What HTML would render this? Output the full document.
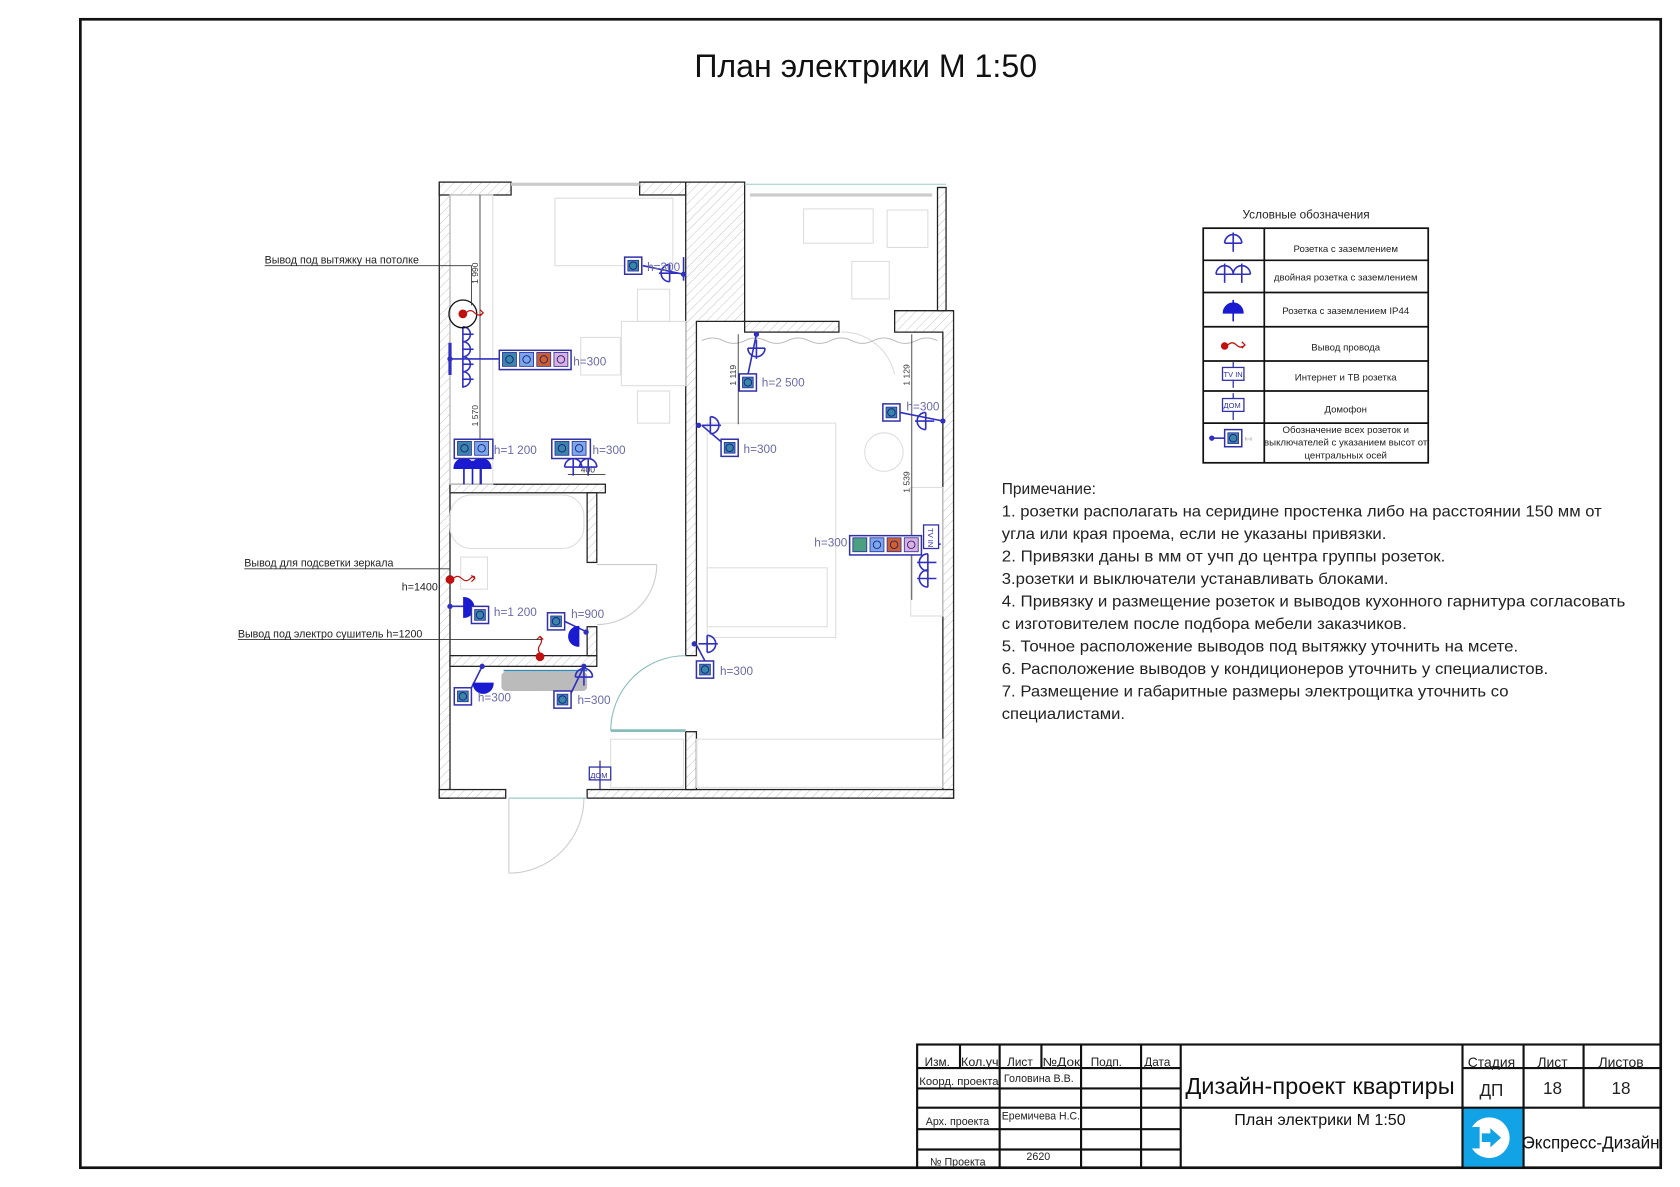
<!DOCTYPE html>
<html><head><meta charset="utf-8"><style>
html,body{margin:0;padding:0;background:#fff;}
svg{display:block;}
text{font-family:"Liberation Sans","DejaVu Sans",sans-serif;}
</style></head><body>
<svg width="1680" height="1187" viewBox="0 0 1568 1108" preserveAspectRatio="none" xmlns="http://www.w3.org/2000/svg">
<defs>
<pattern id="h" width="6" height="6" patternUnits="userSpaceOnUse" patternTransform="rotate(45)">
<rect width="6" height="6" fill="#fff"/><line x1="0" y1="0" x2="0" y2="6" stroke="#bbb" stroke-width="0.8"/>
</pattern>
<g id="s1"><rect x="0" y="0" width="16" height="16" fill="#fff" stroke="#3030a8" stroke-width="1.4"/><rect x="3" y="3" width="10" height="10" fill="#3a86a8" stroke="#3030a8" stroke-width="0.8"/><circle cx="8" cy="8" r="3.5" fill="none" stroke="#1a1a80" stroke-width="0.8"/></g>
<g id="c1"><rect x="0" y="0" width="13" height="13" fill="#3a86a8" stroke="#3030a8" stroke-width="0.8"/><circle cx="6.5" cy="6.5" r="3.5" fill="none" stroke="#1a1a80" stroke-width="0.8"/></g>
<g id="c2"><rect x="0" y="0" width="13" height="13" fill="#7aa8e8" stroke="#3030a8" stroke-width="0.8"/><circle cx="6.5" cy="6.5" r="3.5" fill="none" stroke="#1a1a80" stroke-width="0.8"/></g>
<g id="c3"><rect x="0" y="0" width="13" height="13" fill="#d0602a" stroke="#3030a8" stroke-width="0.8"/><circle cx="6.5" cy="6.5" r="3.5" fill="none" stroke="#1a1a80" stroke-width="0.8"/></g>
<g id="c4"><rect x="0" y="0" width="13" height="13" fill="#dcb0dc" stroke="#3030a8" stroke-width="0.8"/><circle cx="6.5" cy="6.5" r="3.5" fill="none" stroke="#1a1a80" stroke-width="0.8"/></g>
<g id="sock"><line x1="0" y1="-8" x2="0" y2="10" stroke="#3030c0" stroke-width="1.5"/><line x1="-8" y1="0" x2="8" y2="0" stroke="#3030c0" stroke-width="1.5"/><path d="M-8 0 A8 8 0 0 0 8 0" fill="none" stroke="#3030c0" stroke-width="1.5"/></g>
</defs>

<!-- frame -->
<rect x="75" y="18" width="1475" height="1072" fill="none" stroke="#111" stroke-width="2.5"/>
<text x="808" y="72" font-size="30" text-anchor="middle" fill="#111">План электрики М 1:50</text>

<!-- ===== PLAN ===== -->
<g>
<!-- hatched walls -->
<g fill="url(#h)" stroke="#222" stroke-width="1.2">
<rect x="410" y="170" width="10" height="575"/>
<rect x="410" y="170" width="67" height="12"/>
<rect x="597" y="170" width="43" height="12"/>
<path d="M640 170 H695 V300 H650 V612 H640 Z"/>
<rect x="695" y="300" width="88" height="10"/>
<path d="M835 290 H890 V745 H880 V310 H835 Z"/>
<rect x="875" y="175" width="8" height="115"/>
<rect x="410" y="737" width="62" height="8"/>
<rect x="548" y="737" width="342" height="8"/>
<rect x="420" y="452" width="145" height="8"/>
<rect x="548" y="460" width="9" height="65"/>
<rect x="420" y="612" width="137" height="10"/>
<rect x="548" y="585" width="9" height="27"/>
<rect x="640" y="683" width="10" height="54"/>
</g>
<line x1="695" y1="172" x2="883" y2="172" stroke="#9cc" stroke-width="1"/>
<line x1="477" y1="172" x2="597" y2="172" stroke="#ccc" stroke-width="3"/>
<line x1="700" y1="182" x2="870" y2="182" stroke="#ccc" stroke-width="3"/>
<!-- furniture light -->
<g fill="none" stroke="#ddd" stroke-width="1">
<rect x="420" y="182" width="40" height="270"/>
<rect x="518" y="185" width="110" height="63"/>
<rect x="580" y="300" width="60" height="60"/>
<rect x="595" y="270" width="30" height="30"/>
<rect x="595" y="365" width="30" height="30"/>
<rect x="542" y="315" width="37" height="35"/>
<rect x="750" y="195" width="65" height="32"/>
<rect x="828" y="196" width="38" height="35"/>
<rect x="795" y="244" width="35" height="35"/>
<rect x="660" y="395" width="120" height="200"/>
<rect x="660" y="530" width="112" height="55"/>
<circle cx="825" cy="422" r="18"/>
<rect x="420" y="462" width="125" height="50" rx="20"/>
<rect x="430" y="520" width="25" height="30"/>
<rect x="570" y="690" width="68" height="45"/>
<rect x="850" y="455" width="30" height="120"/>
<rect x="650" y="690" width="230" height="45"/>
</g>
<rect x="468" y="627" width="80" height="18" rx="4" fill="#bbb"/>
<line x1="470" y1="626" x2="548" y2="626" stroke="#3a86a8" stroke-width="1.5"/>
<!-- doors -->
<g fill="none" stroke="#8bb" stroke-width="1">
<path d="M570 682 A70 70 0 0 1 640 612"/>
<line x1="570" y1="682" x2="640" y2="682" stroke-width="2.5"/>
<path d="M557 583 A56 56 0 0 0 613 527" stroke="#ccc"/>
<line x1="557" y1="527" x2="613" y2="527" stroke="#ccc"/>
<line x1="475" y1="745" x2="475" y2="815" stroke="#ccc"/>
<path d="M475 815 A70 70 0 0 0 545 745" stroke="#ccc"/>
<line x1="475" y1="745" x2="548" y2="745"/>
<path d="M785 310 A50 50 0 0 1 835 350" stroke="#ddd"/>
</g>
<!-- curtains -->
<path d="M655 318 q10 -5 20 0 t20 0 t20 0 t20 0 t20 0 t20 0 t20 0 t20 0 t20 0 t20 0 t20 0" fill="none" stroke="#bbb" stroke-width="1"/>
<!-- dim lines -->
<g stroke="#333" stroke-width="0.8" fill="none">
<line x1="448" y1="182" x2="448" y2="452"/>
<line x1="689" y1="312" x2="689" y2="396"/>
<line x1="851" y1="312" x2="851" y2="560"/>
<line x1="530" y1="443" x2="565" y2="443"/>
</g>
<g font-size="8" fill="#333">
<text transform="translate(446,265) rotate(-90)">1 990</text>
<text transform="translate(446,398) rotate(-90)">1 570</text>
<text transform="translate(687,360) rotate(-90)">1 119</text>
<text transform="translate(849,360) rotate(-90)">1 129</text>
<text transform="translate(849,460) rotate(-90)">1 539</text>
<text x="542" y="441">400</text>
</g>

<!-- devices -->
<g stroke="#3030c0" stroke-width="1.5" fill="none">
<line x1="420" y1="335" x2="466" y2="335"/>
<line x1="420" y1="320" x2="420" y2="350" stroke-width="3"/>
<path d="M432 305 A7 7 0 0 1 432 319 M432 319 A7 7 0 0 1 432 333 M432 333 A7 7 0 0 1 432 347 M432 347 A7 7 0 0 1 432 361"/>
<line x1="432" y1="305" x2="432" y2="362"/>
<line x1="432" y1="312" x2="442" y2="312"/><line x1="432" y1="326" x2="442" y2="326"/><line x1="432" y1="340" x2="442" y2="340"/><line x1="432" y1="354" x2="442" y2="354"/>
<line x1="600" y1="248" x2="638" y2="256"/><line x1="638" y1="240" x2="638" y2="262"/>
<line x1="698" y1="350" x2="706" y2="312"/>
<line x1="655" y1="397" x2="675" y2="414"/>
<line x1="840" y1="385" x2="880" y2="393"/>
<line x1="650" y1="602" x2="658" y2="617"/>
<line x1="436" y1="566" x2="420" y2="566"/>
<line x1="527" y1="580" x2="548" y2="590"/>
<line x1="440" y1="642" x2="450" y2="622"/>
<line x1="533" y1="647" x2="545" y2="622"/>
<line x1="862" y1="508" x2="878" y2="508"/>
</g>
<g fill="#3030c0">
<circle cx="638" cy="256" r="2.5"/><circle cx="706" cy="312" r="2.5"/><circle cx="652" cy="397" r="2.5"/>
<circle cx="880" cy="393" r="2.5"/><circle cx="648" cy="601" r="2.5"/><circle cx="420" cy="566" r="2.5"/>
<circle cx="547" cy="590" r="2.5"/><circle cx="450" cy="622" r="2.5"/><circle cx="545" cy="622" r="2.5"/><circle cx="420" cy="335" r="2.5"/>
</g>
<use href="#sock" transform="translate(625,255) rotate(90)"/>
<use href="#sock" transform="translate(706,325)"/>
<use href="#sock" transform="translate(663,397) rotate(-90)"/>
<use href="#sock" transform="translate(864,393) rotate(90)"/>
<use href="#sock" transform="translate(660,601) rotate(-90)"/>
<use href="#sock" transform="translate(866,525) rotate(90)"/>
<use href="#sock" transform="translate(866,540) rotate(90)"/>
<use href="#sock" transform="translate(535,436) rotate(180)"/>
<use href="#sock" transform="translate(549,436) rotate(180)"/>
<use href="#sock" transform="translate(545,632) rotate(180)"/>
<!-- IP44 filled -->
<g fill="#1a1ad0" stroke="#1a1ad0" stroke-width="1.5">
<path d="M424 437 A9 9 0 0 1 442 437 Z"/><path d="M440 437 A9 9 0 0 1 458 437 Z"/>
<line x1="433" y1="430" x2="433" y2="452"/><line x1="449" y1="430" x2="449" y2="452"/><line x1="441" y1="430" x2="441" y2="452"/>
<path d="M433 558 A9 9 0 0 1 433 576 Z"/><path d="M540 585 A9 9 0 0 0 540 603 Z" transform="rotate(0)"/>
<path d="M442 638 A9 9 0 0 0 460 638 Z"/>
</g>
<!-- socket boxes -->
<use href="#s1" x="583" y="240"/>
<rect x="466" y="327" width="67" height="18" fill="#fff" stroke="#3030a8" stroke-width="1.4"/>
<use href="#c1" x="469" y="329"/><use href="#c2" x="485" y="329"/><use href="#c3" x="501" y="329"/><use href="#c4" x="517" y="329"/>
<rect x="424" y="410" width="36" height="18" fill="#fff" stroke="#3030a8" stroke-width="1.4"/>
<use href="#c1" x="427" y="412"/><use href="#c2" x="443" y="412"/>
<rect x="515" y="410" width="36" height="18" fill="#fff" stroke="#3030a8" stroke-width="1.4"/>
<use href="#c1" x="518" y="412"/><use href="#c2" x="534" y="412"/>
<use href="#s1" x="690" y="349"/>
<use href="#s1" x="673" y="410"/>
<use href="#s1" x="824" y="377"/>
<rect x="793" y="500" width="67" height="18" fill="#fff" stroke="#3030a8" stroke-width="1.4"/>
<rect x="796" y="502" width="13" height="13" fill="#4aa080" stroke="#3030a8" stroke-width="0.8"/>
<use href="#c2" x="812" y="502"/><use href="#c3" x="828" y="502"/><use href="#c4" x="844" y="502"/>
<rect x="862" y="490" width="14" height="22" fill="#fff" stroke="#3030a8" stroke-width="1.2"/>
<text transform="translate(866,493) rotate(90)" font-size="7" fill="#3030a8">TV IN</text>
<use href="#s1" x="650" y="617"/>
<use href="#s1" x="440" y="566"/>
<use href="#s1" x="511" y="572"/>
<use href="#s1" x="424" y="642"/>
<use href="#s1" x="517" y="645"/>
<rect x="550" y="716" width="20" height="12" fill="#fff" stroke="#3030a8" stroke-width="1.2"/>
<line x1="560" y1="710" x2="560" y2="737" stroke="#3030a8" stroke-width="1.2"/>
<text x="551" y="726" font-size="7" fill="#3030a8">ДОМ</text>
<!-- labels -->
<g font-size="11" fill="#6a6aa8">
<text x="604" y="253">h=300</text><text x="535" y="341">h=300</text>
<text x="461" y="424">h=1 200</text><text x="553" y="424">h=300</text>
<text x="711" y="361">h=2 500</text><text x="694" y="423">h=300</text>
<text x="846" y="383">h=300</text><text x="760" y="510">h=300</text>
<text x="672" y="630">h=300</text><text x="461" y="575">h=1 200</text>
<text x="533" y="577">h=900</text><text x="446" y="655">h=300</text><text x="539" y="657">h=300</text>
</g>
<!-- red outlets -->
<circle cx="432" cy="293" r="13" fill="none" stroke="#111" stroke-width="1.2"/>
<g fill="#c01010" stroke="#c01010" stroke-width="1.2">
<circle cx="432" cy="293" r="3.5"/><circle cx="420" cy="541" r="3.5"/><circle cx="504" cy="613" r="3.5"/>
</g>
<g fill="none" stroke="#c01010" stroke-width="1.1">
<path d="M435 292 q4 -4 8 0 t8 0 l-3 -3 m3 3 l-3 3"/>
<path d="M423 540 q4 -4 8 0 t8 0 t4 0 l-3 -3 m3 3 l-3 3"/>
<path d="M504 610 q-3 -4 0 -8 t0 -8 l-3 3 m3 -3 l3 3"/>
</g>
<!-- callouts -->
<g stroke="#333" stroke-width="0.8" fill="none">
<polyline points="247,248 440,248 440,285"/>
<polyline points="228,531 420,531 420,538"/>
<polyline points="222,597 505,597"/>
</g>
<g font-size="10" fill="#222">
<text x="247" y="246">Вывод под вытяжку на потолке</text>
<text x="228" y="529">Вывод для подсветки зеркала</text>
<text x="375" y="551">h=1400</text>
<text x="222" y="595">Вывод под электро сушитель h=1200</text>
</g>
</g>

<!-- ===== LEGEND ===== -->
<text x="1219" y="204" font-size="11" text-anchor="middle" fill="#222">Условные обозначения</text>
<g stroke="#111" stroke-width="1.6" fill="none">
<rect x="1123" y="213" width="210" height="219"/>
<line x1="1180" y1="213" x2="1180" y2="432"/>
<line x1="1123" y1="243" x2="1333" y2="243"/><line x1="1123" y1="273" x2="1333" y2="273"/>
<line x1="1123" y1="305" x2="1333" y2="305"/><line x1="1123" y1="337" x2="1333" y2="337"/>
<line x1="1123" y1="365" x2="1333" y2="365"/><line x1="1123" y1="395" x2="1333" y2="395"/>
</g>
<use href="#sock" transform="translate(1151,227) rotate(180)"/>
<use href="#sock" transform="translate(1143,256) rotate(180)"/>
<use href="#sock" transform="translate(1159,256) rotate(180)"/>
<g fill="#1a1ad0" stroke="#1a1ad0" stroke-width="1.5"><path d="M1142 292 A9 9 0 0 1 1160 292 Z"/><line x1="1151" y1="280" x2="1151" y2="300"/></g>
<circle cx="1143" cy="323" r="3.5" fill="#c01010"/>
<path d="M1146 322 q4 -4 8 0 t8 0 l-3 -3 m3 3 l-3 3" fill="none" stroke="#c01010" stroke-width="1.2"/>
<g stroke="#3030a8" stroke-width="1.2" fill="#fff">
<line x1="1151" y1="338" x2="1151" y2="362"/><rect x="1141" y="343" width="20" height="12"/>
<line x1="1151" y1="367" x2="1151" y2="392"/><rect x="1141" y="372" width="20" height="12"/>
</g>
<text x="1142" y="352" font-size="7" fill="#3030a8">TV IN</text>
<text x="1142" y="381" font-size="7" fill="#3030a8">ДОМ</text>
<line x1="1131" y1="409" x2="1143" y2="409" stroke="#3030c0" stroke-width="1.5"/><circle cx="1131" cy="409" r="2.5" fill="#3030c0"/>
<use href="#s1" x="1143" y="401"/>
<text x="1162" y="411" font-size="4" fill="#888">h=0</text>
<g font-size="9" fill="#222" text-anchor="middle">
<text x="1256" y="235">Розетка с заземлением</text>
<text x="1256" y="262">двойная розетка с заземлением</text>
<text x="1256" y="293">Розетка с заземлением IP44</text>
<text x="1256" y="327">Вывод провода</text>
<text x="1256" y="355">Интернет и ТВ розетка</text>
<text x="1256" y="385">Домофон</text>
<text x="1256" y="404">Обозначение всех розеток и</text>
<text x="1256" y="416">выключателей с указанием высот от</text>
<text x="1256" y="428">центральных осей</text>
</g>

<!-- ===== NOTES ===== -->
<g font-size="14.5" fill="#222">
<text x="935" y="461">Примечание:</text>
<text x="935" y="482" textLength="560" lengthAdjust="spacingAndGlyphs">1. розетки располагать на серидине простенка либо на расстоянии 150 мм от</text>
<text x="935" y="503" textLength="359" lengthAdjust="spacingAndGlyphs">угла или края проема, если не указаны привязки.</text>
<text x="935" y="524" textLength="414" lengthAdjust="spacingAndGlyphs">2. Привязки даны в мм от учп до центра группы розеток.</text>
<text x="935" y="545" textLength="361" lengthAdjust="spacingAndGlyphs">3.розетки и выключатели устанавливать блоками.</text>
<text x="935" y="566" textLength="582" lengthAdjust="spacingAndGlyphs">4. Привязку и размещение розеток и выводов кухонного гарнитура согласовать</text>
<text x="935" y="587" textLength="378" lengthAdjust="spacingAndGlyphs">с изготовителем после подбора мебели заказчиков.</text>
<text x="935" y="608" textLength="482" lengthAdjust="spacingAndGlyphs">5. Точное расположение выводов под вытяжку уточнить на мсете.</text>
<text x="935" y="629" textLength="510" lengthAdjust="spacingAndGlyphs">6. Расположение выводов у кондиционеров уточнить у специалистов.</text>
<text x="935" y="650" textLength="473" lengthAdjust="spacingAndGlyphs">7. Размещение и габаритные размеры электрощитка уточнить со</text>
<text x="935" y="671" textLength="115" lengthAdjust="spacingAndGlyphs">специалистами.</text>
</g>

<!-- ===== TITLE BLOCK ===== -->
<rect x="1365" y="1034" width="57" height="56" fill="#12a3e6"/>
<g stroke="#111" stroke-width="2" fill="none">
<rect x="856" y="975" width="694" height="115"/>
<line x1="856" y1="997" x2="1102" y2="997"/>
<line x1="856" y1="1016" x2="1102" y2="1016"/>
<line x1="856" y1="1034" x2="1102" y2="1034"/>
<line x1="856" y1="1054" x2="1102" y2="1054"/>
<line x1="856" y1="1073" x2="1102" y2="1073"/>
<line x1="896" y1="975" x2="896" y2="997"/>
<line x1="933" y1="975" x2="933" y2="1090"/>
<line x1="972" y1="975" x2="972" y2="997"/>
<line x1="1009" y1="975" x2="1009" y2="1090"/>
<line x1="1065" y1="975" x2="1065" y2="1090"/>
<line x1="1102" y1="975" x2="1102" y2="1090"/>
<line x1="1365" y1="975" x2="1365" y2="1090"/>
<line x1="1102" y1="1034" x2="1550" y2="1034"/>
<line x1="1365" y1="997" x2="1550" y2="997"/>
<line x1="1422" y1="975" x2="1422" y2="1090"/>
<line x1="1478" y1="975" x2="1478" y2="1034"/>
</g>
<g font-size="11" fill="#222">
<text x="863" y="995">Изм.</text><text x="897" y="995" textLength="35" lengthAdjust="spacingAndGlyphs">Кол.уч</text>
<text x="940" y="995">Лист</text><text x="973" y="995" textLength="35" lengthAdjust="spacingAndGlyphs">№Док</text>
<text x="1018" y="995">Подп.</text><text x="1068" y="995">Дата</text>
<text x="858" y="1013" font-size="10" textLength="74" lengthAdjust="spacingAndGlyphs">Коорд. проекта</text>
<text x="937" y="1010" font-size="10">Головина В.В.</text>
<text x="864" y="1050" font-size="10">Арх. проекта</text>
<text x="935" y="1045" font-size="10" textLength="73" lengthAdjust="spacingAndGlyphs">Еремичева Н.С.</text>
<text x="868" y="1088" font-size="10">№ Проекта</text>
<text x="958" y="1083" font-size="10">2620</text>
</g>
<text x="1232" y="1021" font-size="22" text-anchor="middle" fill="#111">Дизайн-проект квартиры</text>
<text x="1232" y="1050" font-size="15" text-anchor="middle" fill="#111">План электрики М 1:50</text>
<g font-size="13" fill="#222" text-anchor="middle">
<text x="1392" y="996">Стадия</text><text x="1449" y="996">Лист</text><text x="1513" y="996">Листов</text>
<text x="1392" y="1023" font-size="16">ДП</text><text x="1449" y="1021" font-size="16">18</text><text x="1513" y="1021" font-size="16">18</text>
</g>
<g>
<circle cx="1390" cy="1062" r="19" fill="#fff"/>
<path d="M1378 1048 a19 19 0 0 1 0 28" fill="none" stroke="#12a3e6" stroke-width="0"/>
<rect x="1371" y="1052" width="10" height="20" fill="#12a3e6"/>
<path d="M1383 1058 h8 v-5 l10 9 l-10 9 v-5 h-8 z" fill="#12a3e6"/>
</g>
<text x="1485" y="1072" font-size="16" text-anchor="middle" fill="#111" textLength="128" lengthAdjust="spacingAndGlyphs">Экспресс-Дизайн</text>
</svg>
</body></html>
